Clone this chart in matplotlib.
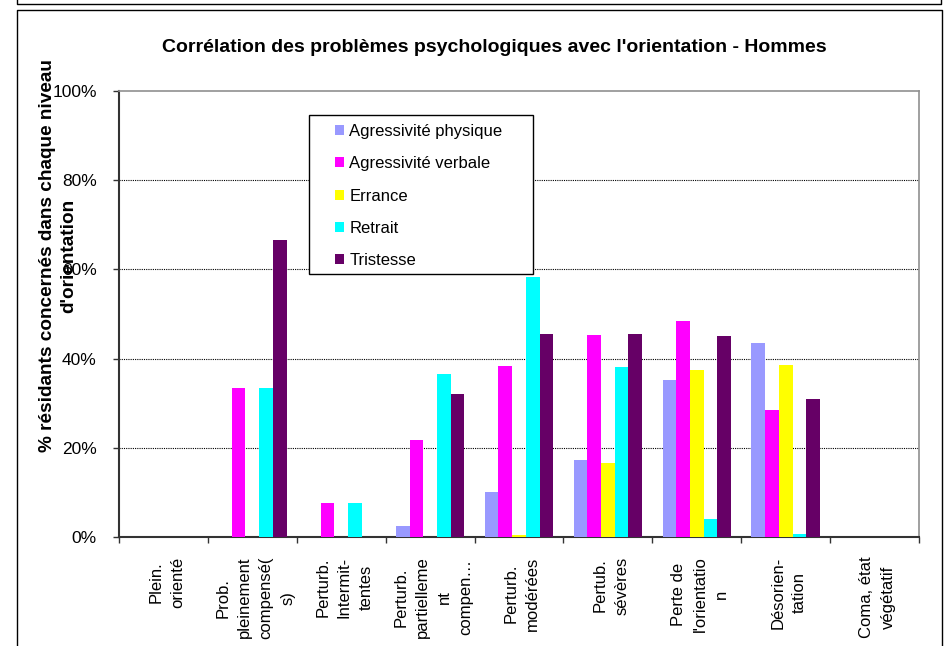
import matplotlib
matplotlib.use("Agg")
import matplotlib.pyplot as plt
import numpy as np
from matplotlib.lines import Line2D
from matplotlib.patches import Patch, Rectangle
from matplotlib.ticker import FixedLocator, PercentFormatter

plt.rcParams['font.family'] = ['Liberation Sans', 'DejaVu Sans']

categories = ["Plein.\norienté", "Prob.\npleinement\ncompensé(\ns)", "Perturb.\nIntermit-\ntentes",
              "Perturb.\npartielleme\nnt\ncompen…", "Perturb.\nmodérées", "Pertub.\nsévères",
              "Perte de\nl'orientatio\nn", "Désorien-\ntation", "Coma, état\nvégétatif"]
series_names = ["Agressivité physique", "Agressivité verbale", "Errance", "Retrait", "Tristesse"]
agr_physique = [0, 0, 0, 2.5, 10.0, 17.3, 35.3, 43.4, 0]
agr_verbale = [0, 33.3, 7.7, 21.7, 38.3, 45.4, 48.5, 28.4, 0]
errance = [0, 0, 0, 0, 0.5, 16.5, 37.4, 38.5, 0]
retrait = [0, 33.3, 7.7, 36.6, 58.3, 38.2, 4.0, 0.6, 0]
tristesse = [0, 66.7, 0, 32.1, 45.6, 45.5, 45.1, 31.0, 0]
colors = ["#9999FF", "#FF00FF", "#FFFF00", "#00FFFF", "#660066"]

W, H = 944, 646
fig = plt.figure(figsize=(W / 100, H / 100), dpi=100)

def fx(px):
    return px / W

def fy(py):
    return 1 - py / H

# outer frames
fig.add_artist(Line2D([fx(17), fx(17), fx(941), fx(941)], [fy(-2), fy(4), fy(4), fy(-2)],
                      transform=fig.transFigure, color="black", lw=1))
fig.add_artist(Line2D([fx(17), fx(17), fx(942), fx(942)], [fy(650), fy(10), fy(10), fy(650)],
                      transform=fig.transFigure, color="black", lw=1))

left, right, top, bottom = 119, 919, 91, 537
ax = fig.add_axes([fx(left), fy(bottom), fx(right - left), (bottom - top) / H])

data = [agr_physique, agr_verbale, errance, retrait, tristesse]
n = len(categories)
x = np.arange(n)
w = 1 / 6.5
for k, (vals, c) in enumerate(zip(data, colors)):
    ax.bar(x + (k - 2) * w, vals, width=w, color=c, edgecolor='none', zorder=3)

ax.set_xlim(-0.5, n - 0.5)
ax.set_ylim(0, 100)
ax.yaxis.set_major_locator(FixedLocator([0, 20, 40, 60, 80, 100]))
ax.yaxis.set_major_formatter(PercentFormatter(decimals=0))
for yv in [20, 40, 60, 80]:
    ax.axhline(yv, color="black", lw=0.8, ls=(0, (1, 1)), zorder=1)

# category labels (slightly right of centre, as in the original rendering)
ax.set_xticks(x + 0.035)
ax.set_xticklabels(categories, rotation=90, ha='center', va='top', multialignment='center',
                   linespacing=1.55)
ax.tick_params(axis='x', which='major', length=0, pad=14, labelsize=12)
ax.set_xticks(np.arange(n + 1) - 0.5, minor=True)
ax.tick_params(axis='x', which='minor', length=4, width=1, direction='out', color='#333333')
ax.tick_params(axis='y', length=4, width=1, direction='out', color='#333333', labelsize=12.5, pad=12)

for s in ['top', 'right']:
    ax.spines[s].set_color('#909090')
    ax.spines[s].set_linewidth(1.2)
for s in ['left', 'bottom']:
    ax.spines[s].set_color('#333333')
    ax.spines[s].set_linewidth(1.5)

fig.text(fx(494), fy(47), "Corrélation des problèmes psychologiques avec l'orientation - Hommes",
         ha='center', va='center', fontsize=14, fontweight='bold')
fig.text(fx(58), fy(256), "% résidants concernés dans chaque niveau\nd'orientation",
         rotation=90, ha='center', va='center', multialignment='center', fontsize=13.7,
         fontweight='bold', linespacing=1.3)

# legend frame
fig.add_artist(Rectangle((fx(309), fy(274)), fx(533 - 309), (274 - 115) / H,
                         transform=fig.transFigure, facecolor='white', edgecolor='black',
                         lw=1, zorder=5))
handles = [Patch(facecolor=c, edgecolor='none') for c in colors]
leg = fig.legend(handles, series_names, loc='upper left', bbox_to_anchor=(fx(335), fy(124)),
                 fontsize=12, frameon=False, handlelength=0.55,
                 handleheight=0.55, handletextpad=0.3, labelspacing=1.04, borderpad=0,
                 borderaxespad=0)
leg.set_zorder(6)

fig.savefig("out.png", dpi=100)
